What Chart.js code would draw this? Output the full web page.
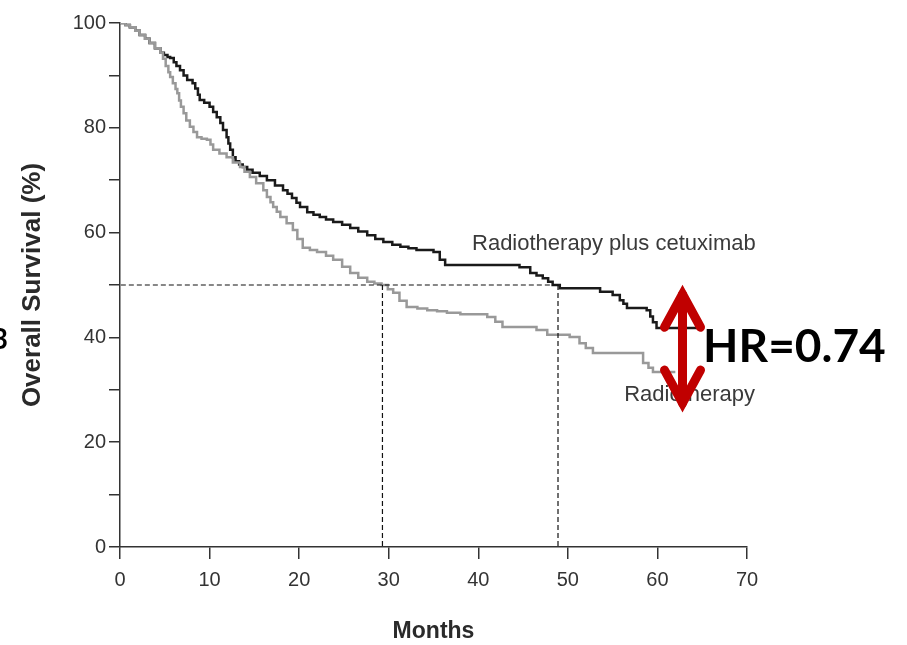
<!DOCTYPE html>
<html>
<head>
<meta charset="utf-8">
<script src="https://cdn.jsdelivr.net/npm/chart.js@4.4.1/dist/chart.umd.min.js"></script>
<style>
  html, body { margin: 0; padding: 0; background: #ffffff; }
  #wrap { position: relative; width: 907px; height: 645px; }
</style>
</head>
<body>
<div id="wrap"><canvas id="c" width="907" height="645"></canvas></div>
<script>
// ---- Data ----
// Radiotherapy plus cetuximab (months, overall survival %)
const cetuxMonths = [0, 0.6, 1.1, 1.7, 2.2, 2.8, 3.3, 3.9, 4.5, 4.9, 5.3, 5.6, 6.0, 6.3, 6.7, 7.1, 7.5, 8.1, 8.4, 8.7, 8.9, 9.4, 10.0, 10.4, 10.8, 11.2, 11.5, 11.9, 12.1, 12.3, 12.6, 12.9, 13.3, 13.7, 14.2, 14.8, 15.6, 16.4, 17.3, 18.2, 18.7, 19.2, 19.7, 20.1, 20.9, 21.6, 22.3, 23.0, 23.8, 24.8, 25.7, 26.6, 27.6, 28.5, 29.4, 30.4, 31.3, 32.2, 33.1, 35.0, 35.7, 36.3, 44.6, 45.8, 46.5, 47.2, 47.8, 48.3, 49.1, 52.8, 53.6, 55.0, 55.8, 56.2, 56.6, 58.8, 59.2, 59.5, 59.9, 64.5];
const cetuxSurv   = [100, 99.6, 99.2, 98.5, 97.7, 97.0, 96.2, 95.2, 94.3, 93.9, 93.5, 93.3, 92.5, 91.8, 91.0, 90.0, 89.1, 88.5, 87.5, 86.3, 85.3, 84.8, 84.0, 83.0, 82.0, 80.9, 79.6, 78.2, 77.0, 75.8, 74.4, 73.6, 73.0, 72.5, 72.0, 71.4, 70.8, 70.0, 69.0, 68.1, 67.4, 66.6, 65.7, 64.9, 63.9, 63.4, 63.0, 62.5, 62.0, 61.5, 60.9, 60.2, 59.5, 58.8, 58.2, 57.7, 57.3, 57.0, 56.7, 56.3, 54.8, 53.8, 53.4, 52.3, 51.8, 51.3, 50.6, 50.0, 49.4, 49.4, 48.7, 48.1, 47.1, 46.4, 45.6, 45.2, 44.0, 42.9, 41.8, 41.8];

// Radiotherapy alone (months, overall survival %)
const rtMonths = [0, 0.6, 1.1, 1.7, 2.2, 2.8, 3.3, 3.9, 4.5, 4.8, 5.1, 5.4, 5.6, 5.9, 6.2, 6.4, 6.6, 6.8, 7.1, 7.4, 7.8, 8.2, 8.6, 9.1, 9.7, 10.1, 10.4, 11.1, 11.9, 12.6, 13.4, 13.9, 14.5, 15.2, 16.0, 16.4, 16.8, 17.1, 17.5, 17.9, 18.6, 19.3, 19.8, 20.4, 21.2, 22.0, 23.0, 23.8, 24.8, 25.7, 26.6, 27.6, 28.4, 29.2, 29.9, 30.5, 31.2, 32.0, 33.2, 34.3, 35.4, 36.5, 38.0, 41.0, 41.9, 42.7, 46.5, 47.7, 50.2, 51.3, 52.0, 52.8, 57.7, 58.4, 59.0, 59.5, 62.0];
const rtSurv   = [100, 99.6, 99.2, 98.5, 97.7, 97.0, 96.2, 95.2, 94.3, 93.2, 91.8, 90.6, 89.7, 88.5, 87.4, 86.6, 85.2, 84.0, 82.8, 81.4, 80.2, 79.2, 78.2, 77.9, 77.7, 76.8, 75.8, 75.1, 74.4, 73.4, 72.5, 71.6, 70.6, 69.4, 68.1, 66.8, 65.8, 64.9, 64.0, 63.0, 61.8, 60.5, 58.8, 57.1, 56.7, 56.3, 55.6, 54.8, 53.5, 52.3, 51.4, 50.6, 50.3, 50.0, 49.2, 48.5, 47.0, 45.8, 45.5, 45.2, 45.0, 44.7, 44.4, 43.9, 43.0, 42.0, 41.4, 40.5, 40.1, 38.9, 38.0, 37.0, 37.0, 35.1, 34.2, 33.4, 33.4];

// Median survival reference lines (months)
const medianSurvivalLevel = 50;
const medianRt = 29.3;
const medianCetux = 48.9;

// Axis ticks
const xTicks = [0, 10, 20, 30, 40, 50, 60, 70];
const yTicks = [0, 10, 20, 30, 40, 50, 60, 70, 80, 90, 100];
const yLabelled = [0, 20, 40, 60, 80, 100];

// Texts
const seriesNames = ['Radiotherapy plus cetuximab', 'Radiotherapy'];
const axisTitles = { x: 'Months', y: 'Overall Survival (%)' };
const hrText = 'HR=0.74';

// Annotation anchors in data units (months, %)
const labelCetux = { x: 39.3, y: 56.6 };
const labelRt = { x: 70.9, y: 27.9 };
const arrowAnchor = { x: 62.8, top: 49.0, bottom: 26.7 };
const hrAnchor = { x: 65.1, y: 35.3 };

// ---- Build chart ----
const toXY = (xs, ys) => xs.map((x, i) => ({ x: x, y: ys[i] }));
const AXIS = '#333333';
const SANS = "'Liberation Sans', Arial, sans-serif";

const annotations = {
  id: 'annotations',
  afterDatasetsDraw(chart) {
    const { ctx, scales: { x, y } } = chart;
    ctx.save();
    // series labels
    ctx.fillStyle = '#3a3a3a';
    ctx.font = "22px 'Liberation Sans', sans-serif";
    ctx.textBaseline = 'alphabetic';
    ctx.textAlign = 'left';
    ctx.fillText(seriesNames[0], x.getPixelForValue(labelCetux.x), y.getPixelForValue(labelCetux.y));
    ctx.textAlign = 'right';
    ctx.fillText(seriesNames[1], x.getPixelForValue(labelRt.x), y.getPixelForValue(labelRt.y));

    // red double arrow
    const ax = x.getPixelForValue(arrowAnchor.x);
    const ay1 = y.getPixelForValue(arrowAnchor.top);
    const ay2 = y.getPixelForValue(arrowAnchor.bottom);
    ctx.strokeStyle = '#c00000';
    ctx.lineWidth = 9;
    ctx.lineCap = 'round';
    ctx.lineJoin = 'miter';
    ctx.beginPath();
    ctx.moveTo(ax, ay1 + 4);
    ctx.lineTo(ax, ay2 - 4);
    ctx.stroke();
    ctx.beginPath();
    ctx.moveTo(ax - 18, ay1 + 37);
    ctx.lineTo(ax, ay1 + 4);
    ctx.lineTo(ax + 18, ay1 + 37);
    ctx.stroke();
    ctx.beginPath();
    ctx.moveTo(ax - 18, ay2 - 37);
    ctx.lineTo(ax, ay2 - 4);
    ctx.lineTo(ax + 18, ay2 - 37);
    ctx.stroke();

    // HR text
    ctx.fillStyle = '#000000';
    ctx.font = "bold 46px Lato, 'Open Sans', sans-serif";
    ctx.textAlign = 'left';
    ctx.fillText(hrText, x.getPixelForValue(hrAnchor.x), y.getPixelForValue(hrAnchor.y));

    // clipped glyph at the left edge of the slide
    ctx.font = "bold 28px Lato, sans-serif";
    ctx.textAlign = 'right';
    ctx.textBaseline = 'middle';
    ctx.fillText('3', 8, 340);
    ctx.restore();
  }
};

new Chart(document.getElementById('c'), {
  type: 'line',
  data: {
    datasets: [
      {
        label: 'median line',
        data: [{ x: -0.8, y: medianSurvivalLevel }, { x: medianCetux, y: medianSurvivalLevel }],
        borderColor: '#111', borderWidth: 1.2, borderDash: [5, 3], pointRadius: 0, fill: false
      },
      {
        label: 'median RT',
        data: [{ x: medianRt, y: medianSurvivalLevel }, { x: medianRt, y: 0 }],
        borderColor: '#111', borderWidth: 1.2, borderDash: [5, 3], pointRadius: 0, fill: false
      },
      {
        label: 'median cetux',
        data: [{ x: medianCetux, y: medianSurvivalLevel }, { x: medianCetux, y: 0 }],
        borderColor: '#111', borderWidth: 1.2, borderDash: [5, 3], pointRadius: 0, fill: false
      },
      {
        label: seriesNames[1],
        data: toXY(rtMonths, rtSurv),
        borderColor: '#999999', borderWidth: 2.5, stepped: true, pointRadius: 0, fill: false
      },
      {
        label: seriesNames[0],
        data: toXY(cetuxMonths, cetuxSurv),
        borderColor: '#1a1a1a', borderWidth: 2.5, stepped: true, pointRadius: 0, fill: false
      }
    ]
  },
  options: {
    responsive: false,
    animation: false,
    devicePixelRatio: 1,
    layout: { padding: { left: 0, top: 23, right: 160, bottom: 0 } },
    plugins: { legend: { display: false }, tooltip: { enabled: false } },
    scales: {
      x: {
        type: 'linear', min: 0, max: 70,
        afterFit: (s) => { s.height = 98; },
        afterBuildTicks: (s) => { s.ticks = xTicks.map(v => ({ value: v })); },
        grid: { display: true, drawOnChartArea: false, drawTicks: true, tickLength: 12, color: AXIS, lineWidth: 1.5 },
        border: { display: true, color: AXIS, width: 1.5 },
        ticks: { color: AXIS, font: { family: SANS, size: 20 }, padding: 9, autoSkip: false, maxRotation: 0 },
        title: { display: true, text: axisTitles.x, color: '#2a2a2a', font: { family: SANS, size: 23, weight: 'bold', lineHeight: 1.2 }, padding: { top: 0, bottom: 0 } }
      },
      y: {
        type: 'linear', min: 0, max: 100,
        afterFit: (s) => { s.width = 120; },
        afterBuildTicks: (s) => { s.ticks = yTicks.map(v => ({ value: v })); },
        grid: { display: true, drawOnChartArea: false, drawTicks: true, tickLength: 11, color: AXIS, lineWidth: 1.5 },
        border: { display: true, color: AXIS, width: 1.5 },
        ticks: {
          color: AXIS, font: { family: SANS, size: 20 }, padding: 3, autoSkip: false,
          callback: (v) => (yLabelled.includes(v) ? String(v) : '')
        },
        title: { display: true, text: axisTitles.y, color: '#2a2a2a', font: { family: SANS, size: 26, weight: 'bold', lineHeight: 1.2 }, padding: { top: 17, bottom: 0 } }
      }
    }
  },
  plugins: [annotations]
});
</script>
</body>
</html>
